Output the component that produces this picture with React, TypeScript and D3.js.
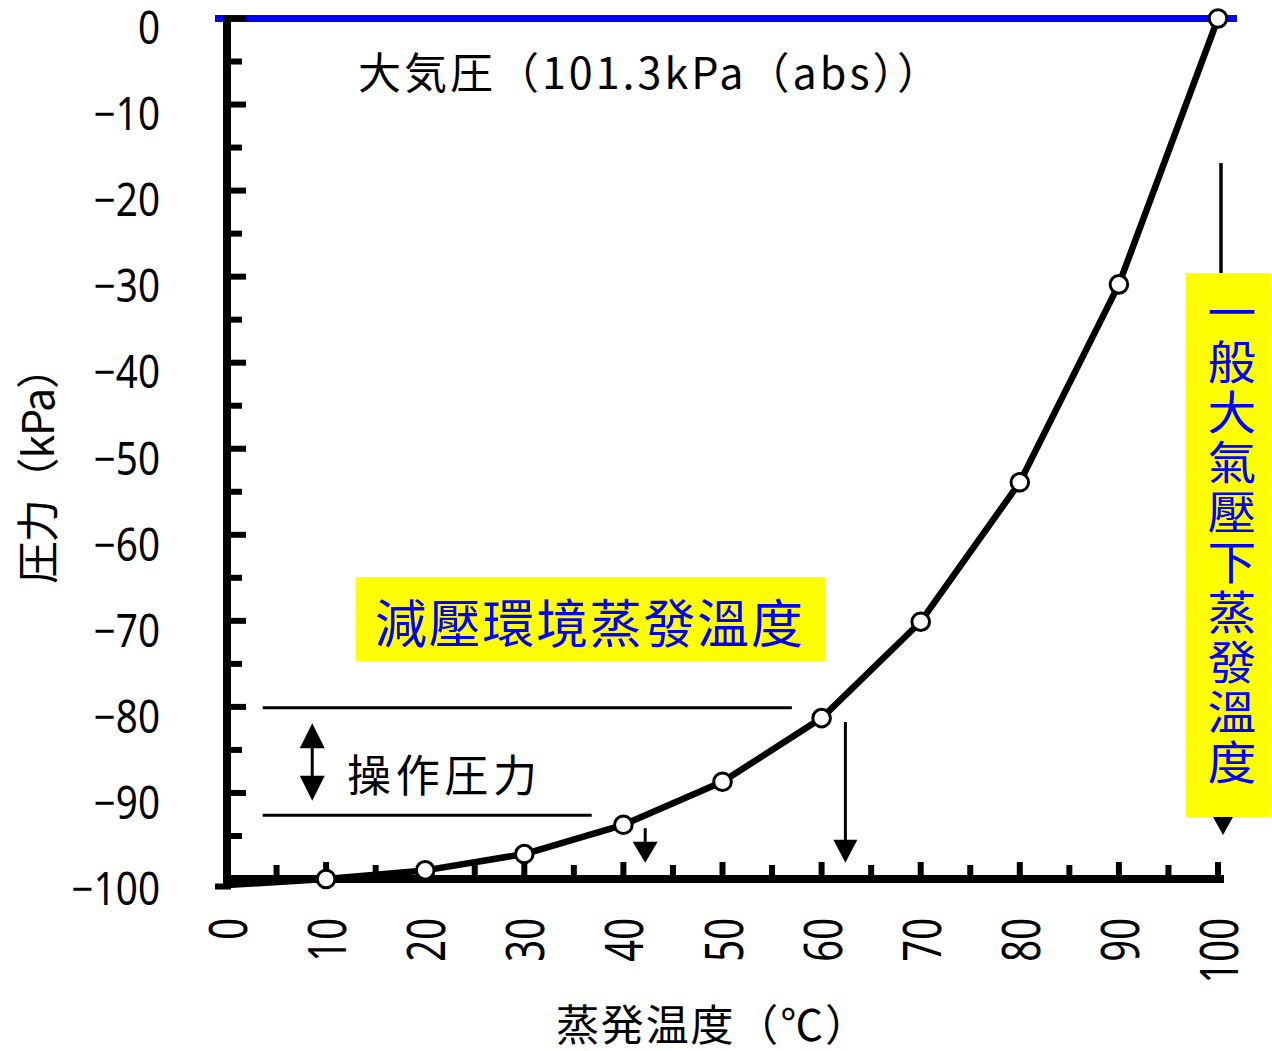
import React from "react";
import * as d3 from "d3";

// ---- data ----
const temperatures = [0, 10, 20, 30, 40, 50, 60, 70, 80, 90, 100];
const pressures = [-100.7, -100.0, -99.0, -97.1, -93.7, -88.7, -81.3, -70.1, -53.9, -30.9, 0];
const yTickValues = [0, -10, -20, -30, -40, -50, -60, -70, -80, -90, -100];
const xTickValues = [0, 10, 20, 30, 40, 50, 60, 70, 80, 90, 100];
const yMinorTicks = [-5, -15, -25, -35, -45, -55, -65, -75, -85, -95];
const xMinorTicks = [5, 15, 25, 35, 45, 55, 65, 75, 85, 95];
const xTitle = "蒸発温度（℃）";
const yTitle = "圧力（kPa）";
const atmLabel = "大気圧（101.3kPa（abs））";
const opLabel = "操作圧力";
const reducedLabel = "減壓環境蒸發溫度";
const normalLabel = "一般大氣壓下蒸發溫度";

const W = 1272;
const H = 1051;

export default function App() {
  const x = d3.scaleLinear().domain([0, 100]).range([227, 1218]);
  const y = d3.scaleLinear().domain([-100, 0]).range([879, 18.5]);
  const pts = temperatures.map((t, i) => [t, pressures[i]] as [number, number]);
  const line = d3
    .line<[number, number]>()
    .x((d) => x(d[0]))
    .y((d) => y(d[1]));

  const jp = "'Noto Sans CJK JP', sans-serif";
  const tc = "'Noto Sans CJK TC', sans-serif";
  const num = "'Noto Sans', 'DejaVu Sans', sans-serif";
  const blue = "#0000FF";
  const yellow = "#FFFF00";

  const downArrow = (xv: number, y0: number, y1: number, hw: number, hh: number) => {
    const cx = x(xv);
    const top = y(y0);
    const tip = y(y1);
    return (
      <g>
        <line x1={cx} x2={cx} y1={top} y2={tip - hh + 2} stroke="#000" strokeWidth={3} />
        <path d={`M${cx - hw},${tip - hh} L${cx + hw},${tip - hh} L${cx},${tip} Z`} fill="#000" />
      </g>
    );
  };

  return (
    <svg width={W} height={H} style={{ position: "absolute", left: 0, top: 0, background: "#fff" }}>
      <rect x={0} y={0} width={W} height={H} fill="#fff" />

      {/* atmospheric pressure line */}
      <line x1={x(0) - 12} x2={x(100) + 19} y1={y(0)} y2={y(0)} stroke={blue} strokeWidth={7} />

      {/* y axis */}
      <line x1={x(0)} x2={x(0)} y1={y(0) - 3} y2={y(-100) + 10} stroke="#000" strokeWidth={8} />
      {yTickValues.map((v) => (
        <line key={"ym" + v} x1={x(0)} x2={x(0) + 19} y1={y(v)} y2={y(v)} stroke="#000" strokeWidth={6} />
      ))}
      {yMinorTicks.map((v) => (
        <line key={"yn" + v} x1={x(0)} x2={x(0) + 15} y1={y(v)} y2={y(v)} stroke="#000" strokeWidth={6} />
      ))}
      {yTickValues.map((v) => (
        <text
          key={"yl" + v}
          transform={`translate(160,${y(v) + 8}) scale(0.92,1.08)`}
          textAnchor="end"
          dominantBaseline="central"
          fontFamily={num}
          fontSize={42}
          fill="#000"
        >
          {v === 0 ? "0" : "\u2212" + Math.abs(v)}
        </text>
      ))}

      {/* x axis */}
      <line x1={x(0) - 4} x2={x(100) + 6} y1={y(-100)} y2={y(-100)} stroke="#000" strokeWidth={8} />
      <line x1={x(0) - 12} x2={x(0) + 4} y1={y(pressures[0]) + 1.5} y2={y(pressures[0]) + 1.5} stroke="#000" strokeWidth={6} />
      {xTickValues.map((v) => (
        <line key={"xm" + v} x1={x(v)} x2={x(v)} y1={y(-100)} y2={y(-100) - 17} stroke="#000" strokeWidth={6} />
      ))}
      {xMinorTicks.map((v) => (
        <line key={"xn" + v} x1={x(v)} x2={x(v)} y1={y(-100)} y2={y(-100) - 14} stroke="#000" strokeWidth={6} />
      ))}
      {xTickValues.map((v) => (
        <text
          key={"xl" + v}
          transform={`translate(${x(v)},${918}) rotate(-90) scale(0.72,1)`}
          textAnchor="end"
          dominantBaseline="central"
          fontFamily={num}
          fontSize={53}
          fill="#000"
        >
          {String(v)}
        </text>
      ))}

      {/* curve */}
      <path d={line(pts) || ""} fill="none" stroke="#000" strokeWidth={6.5} strokeLinejoin="round" />
      {pts.slice(1).map((d, i) => (
        <circle key={"c" + i} cx={x(d[0])} cy={y(d[1])} r={8.8} fill="#fff" stroke="#000" strokeWidth={3} />
      ))}

      {/* operating pressure annotation */}
      <line x1={x(3.6)} x2={x(57)} y1={y(-80.1)} y2={y(-80.1)} stroke="#000" strokeWidth={3} />
      <line x1={x(3.6)} x2={x(36.8)} y1={y(-92.6)} y2={y(-92.6)} stroke="#000" strokeWidth={3} />
      <g>
        <line x1={x(8.6)} x2={x(8.6)} y1={y(-83)} y2={y(-89.5)} stroke="#000" strokeWidth={3} />
        <path d={`M${x(8.6) - 12.5},${y(-81.9) + 25} L${x(8.6) + 12.5},${y(-81.9) + 25} L${x(8.6)},${y(-81.9)} Z`} fill="#000" />
        <path d={`M${x(8.6) - 12.5},${y(-90.9) - 25} L${x(8.6) + 12.5},${y(-90.9) - 25} L${x(8.6)},${y(-90.9)} Z`} fill="#000" />
      </g>
      <text x={347} y={773} dominantBaseline="central" fontFamily={jp} fontSize={44} textLength={190} lengthAdjust="spacing" fill="#000">
        {opLabel}
      </text>

      {downArrow(42.2, -94.1, -98.1, 12.5, 21)}
      {downArrow(62.4, -81.75, -98.1, 12, 23)}

      {/* atmospheric label */}
      <text x={358} y={70} dominantBaseline="central" fontFamily={jp} fontSize={43} textLength={582} lengthAdjust="spacing" fill="#000">
        {atmLabel}
      </text>

      {/* reduced pressure box */}
      <rect x={356} y={577} width={469} height={84} fill={yellow} />
      <text x={375} y={620} dominantBaseline="central" fontFamily={tc} fontSize={52} textLength={428} lengthAdjust="spacing" fill={blue}>
        {reducedLabel}
      </text>

      {/* normal atmospheric boiling annotation */}
      <line x1={x(100.3)} x2={x(100.3)} y1={y(-16.8)} y2={y(-29.6)} stroke="#000" strokeWidth={3.5} />
      <rect x={1186} y={273} width={85} height={544} fill={yellow} />
      <text
        transform={`translate(1232,309) scale(1.06,1)`}
        textAnchor="middle"
        dominantBaseline="central"
        fontFamily={tc}
        fontSize={46}
        fill={blue}
      >
        {Array.from(normalLabel).map((ch, i) => (
          <tspan key={"v" + i} x={0} y={i * 50}>
            {ch}
          </tspan>
        ))}
      </text>
      <path d={`M${1213},${817} L${1233},${817} L${1223},${835} Z`} fill="#000" />

      {/* axis titles */}
      <text
        transform={`translate(35,465) rotate(-90)`}
        textAnchor="middle"
        dominantBaseline="central"
        fontFamily={jp}
        fontSize={43}
        textLength={238}
        lengthAdjust="spacing"
        fill="#000"
      >
        {yTitle}
      </text>
      <text x={712} y={1022} textAnchor="middle" dominantBaseline="central" fontFamily={jp} fontSize={43} textLength={312} lengthAdjust="spacing" fill="#000">
        {xTitle}
      </text>
    </svg>
  );
}
